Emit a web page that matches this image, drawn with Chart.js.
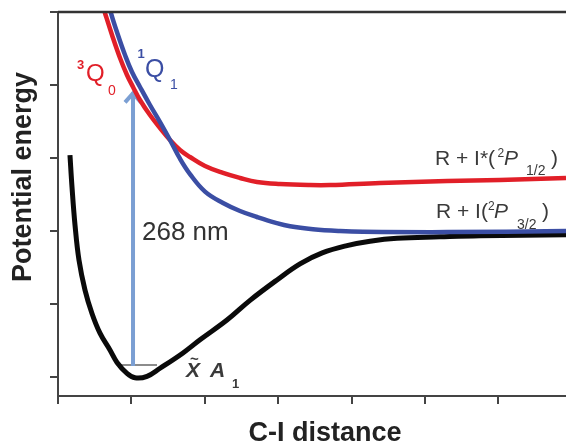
<!DOCTYPE html>
<html>
<head>
<meta charset="utf-8">
<script src="https://cdn.jsdelivr.net/npm/chart.js@4"></script>
<style>
  html, body { margin: 0; padding: 0; background: #fff; }
  #wrap { width: 566px; height: 445px; position: relative; }
</style>
</head>
<body>
<div id="wrap"><canvas id="c"></canvas></div>
<script>
// axis ticks (arbitrary units, no labels in the figure)
const xTicks = [0, 1, 2, 3, 4, 5, 6];
const yTicks = [0, 1, 2, 3, 4, 5];

// ground state X~A1 (black)
const groundX = [0.163, 0.191, 0.232, 0.286, 0.368, 0.463, 0.572, 0.708, 0.804, 0.940, 1.049, 1.213, 1.390, 1.703, 1.935, 2.302, 2.616, 2.984, 3.297, 3.600, 3.937, 4.251, 4.619, 5.204, 5.749, 6.921];
const groundY = [3.04, 2.60, 2.08, 1.60, 1.19, 0.87, 0.60, 0.37, 0.20, 0.05, -0.01, 0.01, 0.12, 0.33, 0.51, 0.78, 1.05, 1.33, 1.55, 1.70, 1.80, 1.86, 1.90, 1.92, 1.935, 1.95];

// 3Q0 (red)
const q0X = [0.586, 0.640, 0.736, 0.845, 0.940, 1.022, 1.117, 1.253, 1.390, 1.526, 1.662, 1.798, 2.003, 2.248, 2.480, 2.711, 3.025, 3.433, 3.706, 4.387, 5.300, 6.022, 6.921];
const q0Y = [5.164, 4.986, 4.685, 4.370, 4.137, 3.973, 3.795, 3.589, 3.411, 3.247, 3.110, 3.014, 2.890, 2.795, 2.726, 2.671, 2.644, 2.630, 2.630, 2.658, 2.685, 2.699, 2.726];

// 1Q1 (blue)
const q1X = [0.681, 0.722, 0.817, 0.913, 1.008, 1.117, 1.253, 1.390, 1.526, 1.662, 1.798, 2.003, 2.248, 2.480, 2.711, 2.956, 3.161, 3.474, 3.842, 4.155, 5.300, 6.921];
const q1Y = [5.164, 4.986, 4.685, 4.411, 4.178, 3.973, 3.726, 3.493, 3.247, 2.990, 2.780, 2.540, 2.384, 2.274, 2.192, 2.115, 2.065, 2.025, 2.000, 1.990, 1.985, 2.000];

// 268 nm excitation arrow and v=0 level
const arrowX = [1.022, 1.022];
const arrowY = [0.15, 3.90];
const levelX = [0.817, 1.349];
const levelY = [0.164, 0.164];

const RED = '#e11f28';
const BLUE = '#3b4ea4';
const ARROW = '#7b9fd3';
const AXIS = '#444';
const TXT = '#3a3a3a';
const FONT = '"Liberation Sans", Arial, sans-serif';

function pts(xs, ys){ return xs.map((x, i) => ({x: x, y: ys[i]})) }

function txt(ctx, s, x, y, font, color){
  ctx.font = font + ' ' + FONT;
  ctx.fillStyle = color;
  ctx.fillText(s, x, y);
}

const decor = {
  id: 'decor',
  beforeDatasetsDraw(chart){
    // arrow head on top of the shaft
    const ctx = chart.ctx;
    const meta = chart.getDatasetMeta(3);
    const tip = meta.data[meta.data.length - 1];
    ctx.save();
    ctx.strokeStyle = ARROW;
    ctx.lineWidth = 4;
    ctx.lineJoin = 'miter';
    ctx.beginPath();
    ctx.moveTo(tip.x - 8, tip.y + 10);
    ctx.lineTo(tip.x, tip.y + 1);
    ctx.lineTo(tip.x + 8, tip.y + 10);
    ctx.stroke();
    ctx.restore();
  },
  afterDraw(chart){
    const ctx = chart.ctx;
    const a = chart.chartArea;
    ctx.save();
    // top frame line
    ctx.strokeStyle = '#333';
    ctx.lineWidth = 2.5;
    ctx.beginPath();
    ctx.moveTo(a.left, a.top);
    ctx.lineTo(a.right, a.top);
    ctx.stroke();

    ctx.textBaseline = 'alphabetic';
    ctx.textAlign = 'left';

    // state labels
    txt(ctx, '3', 77, 69, 'bold 13px', RED);
    txt(ctx, 'Q', 86, 81, '24px', RED);
    txt(ctx, '0', 108, 95, '14px', RED);
    txt(ctx, '1', 137.5, 58, 'bold 13px', BLUE);
    txt(ctx, 'Q', 145, 77, '25px', BLUE);
    txt(ctx, '1', 170, 89, '14px', BLUE);

    // asymptote labels
    txt(ctx, 'R + I*(', 435, 165, '21px', TXT);
    txt(ctx, '2', 497.5, 157, '12px', TXT);
    txt(ctx, 'P', 504, 165, 'italic 21px', TXT);
    txt(ctx, '1/2', 526, 175, '14px', TXT);
    txt(ctx, ')', 551, 165, '21px', TXT);

    txt(ctx, 'R + I(', 436, 218, '21px', TXT);
    txt(ctx, '2', 488, 210, '12px', TXT);
    txt(ctx, 'P', 494, 218, 'italic 21px', TXT);
    txt(ctx, '3/2', 517, 229, '14px', TXT);
    txt(ctx, ')', 542, 218, '21px', TXT);

    txt(ctx, '268 nm', 142, 240, '26px', '#333');

    txt(ctx, 'X', 186, 377, 'bold italic 21px', TXT);
    txt(ctx, '~', 190, 364, 'bold 15px', TXT);
    txt(ctx, 'A', 210, 377, 'bold italic 21px', TXT);
    txt(ctx, '1', 232, 388, 'bold 13px', TXT);

    // axis titles
    ctx.textAlign = 'center';
    ctx.textBaseline = 'middle';
    txt(ctx, 'C-I distance', 325, 434, 'bold 27px', '#222');
    ctx.translate(24, 177);
    ctx.rotate(-Math.PI / 2);
    txt(ctx, 'Potential energy', 0, 0, 'bold 27px', '#222');
    ctx.restore();
  }
};

const curve = (data, color, w) => ({
  data: data, borderColor: color, borderWidth: w, pointRadius: 0,
  fill: false, tension: 0.4
});

new Chart(document.getElementById('c').getContext('2d'), {
  type: 'line',
  data: {
    datasets: [
      curve(pts(q1X, q1Y), BLUE, 4.5),
      curve(pts(q0X, q0Y), RED, 4.5),
      curve(pts(groundX, groundY), '#0a0a0a', 5),
      { data: pts(arrowX, arrowY), borderColor: ARROW, borderWidth: 4, pointRadius: 0, tension: 0 },
      { data: pts(levelX, levelY), borderColor: '#666', borderWidth: 1.5, pointRadius: 0, tension: 0 }
    ]
  },
  options: {
    responsive: true,
    maintainAspectRatio: false,
    animation: false,
    events: [],
    layout: { padding: { top: 12, right: 0, left: 0, bottom: 0 } },
    plugins: { legend: { display: false }, tooltip: { enabled: false } },
    scales: {
      x: {
        type: 'linear', min: 0, max: 6.921,
        afterBuildTicks: s => { s.ticks = xTicks.map(v => ({value: v})) },
        afterFit: s => { s.height = 49 },
        ticks: { display: false },
        grid: { drawOnChartArea: false, drawTicks: true, tickLength: 8, color: AXIS, lineWidth: 2 },
        border: { display: true, color: AXIS, width: 2 }
      },
      y: {
        type: 'linear', min: -0.26, max: 5,
        afterBuildTicks: s => { s.ticks = yTicks.map(v => ({value: v})) },
        afterFit: s => { s.width = 58 },
        ticks: { display: false },
        grid: { drawOnChartArea: false, drawTicks: true, tickLength: 8, color: AXIS, lineWidth: 2 },
        border: { display: true, color: AXIS, width: 2 }
      }
    }
  },
  plugins: [decor]
});
</script>
</body>
</html>
